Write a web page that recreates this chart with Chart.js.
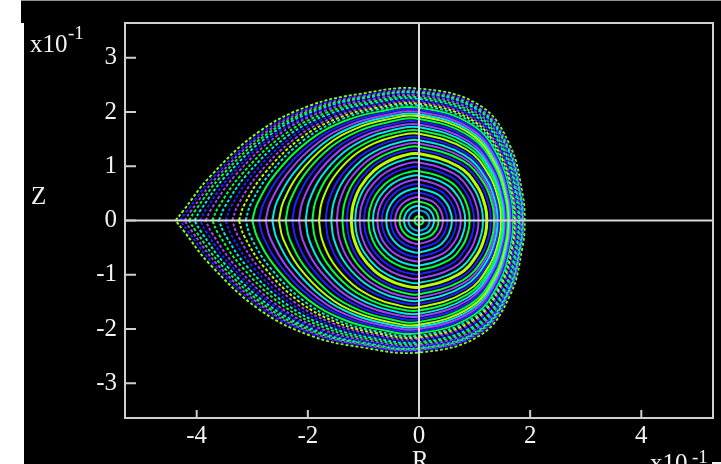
<!DOCTYPE html>
<html>
<head>
<meta charset="utf-8">
<script src="https://cdn.jsdelivr.net/npm/chart.js@4.4.1/dist/chart.umd.min.js"></script>
<style>
  body { margin: 0; background: #fff; width: 721px; height: 464px; overflow: hidden; position: relative; }
  .blk { position: absolute; background: #000; }
  .lbl { position: absolute; color: #f2f2f2; font-family: "Liberation Serif", serif; font-size: 25px; line-height: 25px; white-space: nowrap; }
  .sup { position: absolute; color: #f2f2f2; font-family: "Liberation Serif", serif; font-size: 19px; line-height: 19px; white-space: nowrap; }
  #wrap { position: absolute; left: 24px; top: 0; width: 697px; height: 464px; }
</style>
</head>
<body>
<div class="blk" style="left:24px;top:0;width:697px;height:464px"></div>
<div class="blk" style="left:21px;top:0;width:3px;height:23px"></div>
<div style="position:absolute;left:21px;top:0;width:700px;height:1px;background:#909090"></div>
<div id="wrap"><canvas id="chart" width="697" height="464"></canvas></div>
<div class="lbl" style="left:30px;top:31px">x10</div>
<div class="sup" style="left:68px;top:23px">-1</div>
<div class="lbl" style="left:31px;top:183px">Z</div>
<div class="lbl" style="left:412px;top:447px">R</div>
<div class="lbl" style="left:650px;top:450px">x10</div>
<div class="sup" style="left:692px;top:447px">-1</div>
<div style="position:absolute;left:712px;top:462px;width:9px;height:2px;background:#f2f2f2"></div>
<script>
// Poincare plot: each ring (units of 10^-1)
const ringLeft = [-0.08, -0.19, -0.27, -0.35, -0.43, -0.51, -0.59, -0.67, -0.75, -0.83, -0.91, -0.99, -1.07, -1.15, -1.22, -1.3,
  -1.38, -1.48, -1.58, -1.68, -1.8, -1.92, -2.04, -2.16, -2.28, -2.4, -2.52, -2.64, -2.76, -2.88, -3.0, -3.12, -3.24, -3.36,
  -3.48, -3.6, -3.72, -3.84, -3.94, -4.04, -4.14, -4.22, -4.3, -4.38];
const ringRight = [0.08, 0.19, 0.27, 0.35, 0.43, 0.51, 0.59, 0.67, 0.75, 0.83, 0.91, 0.99, 1.07, 1.15, 1.22, 1.29,
  1.35, 1.38, 1.41, 1.44, 1.47, 1.5, 1.52, 1.54, 1.56, 1.58, 1.6, 1.62, 1.64, 1.66, 1.68, 1.7, 1.72, 1.74,
  1.76, 1.78, 1.8, 1.82, 1.83, 1.85, 1.86, 1.87, 1.88, 1.9];
const ringTop = [0.08, 0.19, 0.27, 0.35, 0.43, 0.51, 0.59, 0.67, 0.75, 0.83, 0.91, 0.99, 1.07, 1.15, 1.23, 1.3,
  1.36, 1.42, 1.48, 1.54, 1.6, 1.66, 1.72, 1.77, 1.82, 1.87, 1.92, 1.96, 2.0, 2.04, 2.08, 2.12, 2.15, 2.18,
  2.21, 2.24, 2.27, 2.3, 2.32, 2.34, 2.36, 2.38, 2.4, 2.43];
const ringColor = ["#00ff40", "#00a8ff", "#00e8e8", "#00ff40", "#a040ff", "#2020ff", "#00e8e8", "#2020ff", "#a040ff", "#00e8e8",
  "#00ff40", "#2020ff", "#a040ff", "#00e8e8", "#b8ff00", "#2020ff",
  "#00ff40", "#a040ff", "#00e8e8", "#2020ff", "#b8ff00", "#00ff40", "#00e8e8", "#a040ff", "#2020ff", "#00ff40", "#b8ff00",
  "#00e8e8", "#a040ff", "#2020ff", "#00ff40", "#00e8e8", "#b8ff00", "#a040ff", "#2020ff", "#00e8e8", "#00ff40", "#a040ff",
  "#2020ff", "#00e8e8", "#00ff40", "#a040ff", "#2020ff", "#80ff20"];

// ring outline: round for inner rings, pointed egg for the outer edge
const leftFrac = [1, 0.97, 0.86, 0.66, 0.45, 0.24, 0];
const leftZRound = [0, 0.24, 0.51, 0.75, 0.89, 0.97, 1];
const leftZEgg = [0, 0.07, 0.33, 0.67, 0.87, 0.96, 1];
const rightFrac = [0.58, 0.86, 0.98, 1];
const rightZRound = [0.81, 0.51, 0.2, 0];
const rightZEgg = [0.87, 0.57, 0.2, 0];

const xTicks = [-4, -2, 0, 2, 4];
const yTicks = [-3, -2, -1, 0, 1, 2, 3];

function ringPoints(i) {
  const L = ringLeft[i], Rr = ringRight[i], H = ringTop[i];
  const p = Math.min(1, Math.max(0, (-L - Rr) / (4.38 - 1.9)));
  const pts = [];
  leftFrac.forEach((f, k) => pts.push({ x: L * f, y: H * (leftZRound[k] + p * (leftZEgg[k] - leftZRound[k])) }));
  rightFrac.forEach((f, k) => pts.push({ x: Rr * f, y: H * (rightZRound[k] + p * (rightZEgg[k] - rightZRound[k])) }));
  for (let k = pts.length - 2; k >= 0; k--) pts.push({ x: pts[k].x, y: -pts[k].y });
  return pts;
}

const datasets = ringLeft.map((_, i) => ({
  data: ringPoints(i),
  showLine: true,
  tension: 0.4,
  pointRadius: 0,
  borderColor: ringColor[i],
  borderWidth: i === 14 ? 3 : 2,
  borderDash: i > 30 ? [3, 2] : [],
  fill: false
}));

const frame = {
  id: "frame",
  afterDatasetsDraw(chart) {
    const { ctx, chartArea: a, scales } = chart;
    const x0 = scales.x.getPixelForValue(0), y0 = scales.y.getPixelForValue(0);
    ctx.save();
    ctx.strokeStyle = "#d8d8d8";
    ctx.lineWidth = 2;
    ctx.beginPath();
    ctx.moveTo(x0, a.top); ctx.lineTo(x0, a.bottom);
    ctx.moveTo(a.left, y0); ctx.lineTo(a.right, y0);
    ctx.stroke();
    ctx.strokeStyle = "#cfcfcf";
    ctx.strokeRect(a.left, a.top, a.right - a.left, a.bottom - a.top);
    ctx.beginPath();
    yTicks.forEach(v => { const y = scales.y.getPixelForValue(v); ctx.moveTo(a.left, y); ctx.lineTo(a.left + 11, y); });
    xTicks.forEach(v => { const x = scales.x.getPixelForValue(v); ctx.moveTo(x, a.bottom); ctx.lineTo(x, a.bottom - 8); });
    ctx.stroke();
    ctx.restore();
  }
};

const tickFont = { family: "Liberation Serif", size: 25 };

new Chart(document.getElementById("chart").getContext("2d"), {
  type: "scatter",
  data: { datasets },
  options: {
    responsive: false,
    animation: false,
    layout: { padding: { top: 16, right: 8, left: 0, bottom: 0 } },
    plugins: { legend: { display: false }, tooltip: { enabled: false } },
    scales: {
      x: {
        type: "linear", min: -5.29, max: 5.29,
        afterBuildTicks: s => { s.ticks = xTicks.map(v => ({ value: v })); },
        afterFit: s => { s.height = 46; },
        grid: { display: false, drawTicks: false },
        border: { display: false },
        ticks: { color: "#f2f2f2", font: tickFont, padding: 3, maxRotation: 0 }
      },
      y: {
        type: "linear", min: -3.64, max: 3.64,
        afterBuildTicks: s => { s.ticks = yTicks.map(v => ({ value: v })); },
        afterFit: s => { s.width = 101; },
        grid: { display: false, drawTicks: false },
        border: { display: false },
        ticks: { color: "#f2f2f2", font: tickFont, padding: 8 }
      }
    }
  },
  plugins: [frame]
});
</script>
</body>
</html>
